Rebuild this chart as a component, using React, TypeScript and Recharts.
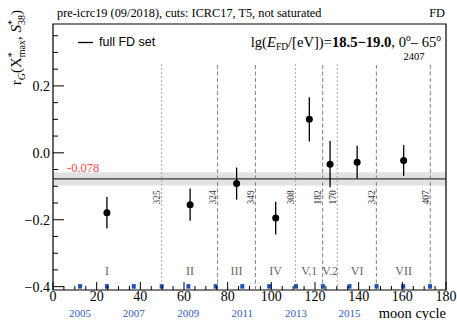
import { ComposedChart, Scatter, XAxis, YAxis, ReferenceLine, ReferenceArea, ErrorBar, Label } from "recharts"

// periods of the FD data set, one point each
const periods = ["I", "II", "III", "IV", "V.1", "V.2", "VI", "VII"]
const periodCycle = [24.7, 62.8, 84.1, 102.0, 117.4, 126.9, 139.3, 160.6]
const periodR = [-0.179, -0.155, -0.092, -0.195, 0.1, -0.034, -0.028, -0.023]
const periodErr = [0.047, 0.048, 0.048, 0.049, 0.066, 0.069, 0.049, 0.046]

// boundaries between periods and event counts written next to them
const boundaryCycle = [49.8, 75.4, 92.7, 111.1, 123.5, 130.2, 148.1, 172.8]
const boundaryCount = [325, 324, 349, 308, 182, 170, 342, 407]
const boundaryDotted = [true, false, false, true, false, true, false, false]

// start of each calendar year in moon cycles
const yearCycle = [12.4, 24.7, 37.0, 49.8, 62.0, 74.5, 86.7, 99.0, 111.3, 123.6, 135.8, 148.2, 160.4, 172.7]
const yearName = [2005, 2006, 2007, 2008, 2009, 2010, 2011, 2012, 2013, 2014, 2015, 2016, 2017, 2018]
const yearLabelled = [true, false, true, false, true, false, true, false, true, false, true, false, false, false]

const fullSetR = -0.078
const fullSetErr = 0.02
const totalEvents = 2407

const xTicks = [0, 5, 10, 15, 20, 25, 30, 35, 40, 45, 50, 55, 60, 65, 70, 75, 80, 85, 90, 95, 100, 105, 110, 115, 120, 125, 130, 135, 140, 145, 150, 155, 160, 165, 170, 175, 180]
const yTicks = [-0.4, -0.35, -0.3, -0.25, -0.2, -0.15, -0.1, -0.05, 0, 0.05, 0.1, 0.15, 0.2, 0.25, 0.3, 0.35]
const yMajorLabels: Record<string, string> = { "-0.4": "\u22120.4", "-0.2": "\u22120.2", "0": "0.0", "0.2": "0.2" }

const X_MIN = 0
const X_MAX = 180
const Y_MIN = -0.41
const Y_MAX = 0.385
const COUNT_Y = -0.1335
const PERIOD_Y = -0.354
const BOUNDARY_TOP = 0.27

const serif = "'Liberation Serif', 'DejaVu Serif', serif"
const sans = "'Liberation Sans', Arial, sans-serif"

const points = periods.map((p, i) => ({ x: periodCycle[i], y: periodR[i], err: periodErr[i], name: p }))
const periodLabels = periods.map((p, i) => ({ x: periodCycle[i], y: PERIOD_Y, name: p }))
const countLabels = boundaryCycle.map((b, i) => ({ x: b, y: COUNT_Y, n: boundaryCount[i] }))
const yearMarks = yearCycle.map((c, i) => ({ x: c, y: -0.4, year: yearName[i], show: yearLabelled[i] }))

const XTick = (p: any) => {
  const { x, y, payload } = p
  const major = payload.value % 20 === 0
  return (
    <g>
      <line x1={x} x2={x} y1={y} y2={y - (major ? 8 : 4)} stroke="#000" />
      {major && (
        <text x={x} y={y + 10.5} textAnchor="middle" fontSize={14} fontFamily={serif} fill="#000">
          {payload.value}
        </text>
      )}
    </g>
  )
}

const YTick = (p: any) => {
  const { x, y, payload } = p
  const key = String(Math.round(payload.value * 100) / 100)
  const lbl = yMajorLabels[key]
  return (
    <g>
      <line x1={x} x2={x + (lbl ? 11 : 5)} y1={y} y2={y} stroke="#000" />
      {lbl && (
        <text x={x - 3} y={y + 5} textAnchor="end" fontSize={14} fontFamily={serif} fill="#000">
          {lbl}
        </text>
      )}
    </g>
  )
}

const YTitle = () => {
  return (
    <text transform="translate(21,10) rotate(-90)" textAnchor="end" fontSize={15} fontFamily={serif} fill="#000">
      r<tspan fontSize={10} dy={4} fontStyle="italic">G</tspan>
      <tspan dy={-4}>(X</tspan>
      <tspan fontSize={10} dy={-6}>*</tspan>
      <tspan fontSize={10} dx={-5} dy={10}>max</tspan>
      <tspan dy={-4}>, </tspan>
      <tspan fontStyle="italic">S</tspan>
      <tspan fontSize={10} dy={-6}>*</tspan>
      <tspan fontSize={10} dx={-5} dy={10}>38</tspan>
      <tspan dy={-4}>)</tspan>
    </text>
  )
}

const MoonCycleLabel = (p: any) => {
  const vb = p.viewBox || { x: 53, y: 290, width: 393 }
  return (
    <text x={vb.x + vb.width} y={vb.y + 27.5} textAnchor="end" fontSize={14.5} fontFamily={serif} fill="#000">
      moon cycle
    </text>
  )
}

const FullSetLabel = (p: any) => {
  const vb = p.viewBox || { x: 53, y: 178 }
  return (
    <text x={vb.x + 14} y={vb.y - 7} fontSize={12.5} fontFamily={serif} fill="#ff4d4d">
      {fullSetR.toFixed(3)}
    </text>
  )
}

const Dot = (p: any) => <circle cx={p.cx} cy={p.cy} r={3.5} fill="#000" />

const CountText = (p: any) => (
  <text
    transform={`translate(${p.cx - 1.5},${p.cy}) rotate(-90)`}
    textAnchor="middle"
    fontSize={9.5}
    fontFamily={serif}
    fill="#333"
  >
    {p.payload.n}
  </text>
)

const PeriodText = (p: any) => (
  <text x={p.cx} y={p.cy + 4} textAnchor="middle" fontSize={12} fontFamily={serif} fill="#666">
    {p.payload.name}
  </text>
)

// year marker on the axis, with the year written below the axis for every other year
const YearMark = (p: any) => (
  <g>
    <rect x={p.cx - 2} y={p.cy - 2.5} width={4} height={4.5} fill="#1f4fb4" />
    {p.payload.show && (
      <text x={p.cx} y={p.cy + 30.5} textAnchor="middle" fontSize={11} fontFamily={serif} fill="#2f5cc0">
        {p.payload.year}
      </text>
    )}
  </g>
)

export default function App() {
  return (
    <div style={{ position: "absolute", left: 0, top: 0, width: 457, height: 320, background: "#fff", fontFamily: serif }}>
      <ComposedChart width={457} height={320} margin={{ top: 24, right: 11, bottom: 13, left: 0 }} style={{ overflow: "visible" }}>
        <XAxis
          dataKey="x"
          type="number"
          domain={[X_MIN, X_MAX]}
          ticks={xTicks}
          interval={0}
          height={17}
          axisLine={false}
          tickLine={false}
          tickSize={0}
          tickMargin={0}
          tick={<XTick />}
        >
          <Label content={<MoonCycleLabel />} />
        </XAxis>
        <YAxis
          dataKey="y"
          type="number"
          domain={[Y_MIN, Y_MAX]}
          ticks={yTicks}
          interval={0}
          width={53}
          axisLine={false}
          tickLine={false}
          tickSize={0}
          tickMargin={0}
          tick={<YTick />}
        >
          <Label content={<YTitle />} />
        </YAxis>

        <ReferenceArea y1={fullSetR - fullSetErr} y2={fullSetR + fullSetErr} fill="#e2e2e2" fillOpacity={1} stroke="none" />
        <ReferenceLine y={fullSetR} stroke="#333" strokeWidth={1.3} label={<FullSetLabel />} />

        {boundaryCycle.map((b, i) => (
          <ReferenceLine
            key={"b" + i}
            segment={[{ x: b, y: Y_MIN }, { x: b, y: BOUNDARY_TOP }]}
            stroke={boundaryDotted[i] ? "#a8a8a8" : "#808080"}
            strokeDasharray={boundaryDotted[i] ? "2 2" : "4 2.5"}
          />
        ))}

        <ReferenceArea
          x1={X_MIN}
          x2={X_MAX}
          y1={Y_MIN}
          y2={Y_MAX}
          fill="none"
          stroke="#000"
          strokeWidth={1.2}
          ifOverflow="visible"
        />

        <Scatter data={countLabels} shape={<CountText />} isAnimationActive={false} />
        <Scatter data={periodLabels} shape={<PeriodText />} isAnimationActive={false} />
        <Scatter data={yearMarks} shape={<YearMark />} isAnimationActive={false} />
        <Scatter data={points} fill="#000" shape={<Dot />} isAnimationActive={false}>
          <ErrorBar dataKey="err" direction="y" width={0} stroke="#000" strokeWidth={1.3} isAnimationActive={false} />
        </Scatter>
      </ComposedChart>

      <svg width={457} height={320} style={{ position: "absolute", left: 0, top: 0, pointerEvents: "none" }}>
        <text x={57} y={16.5} fontSize={12.3} fontFamily={serif} fill="#000">
          pre-icrc19 (09/2018), cuts: ICRC17, T5, not saturated
        </text>
        <text x={445} y={16.5} textAnchor="end" fontSize={12.3} fontFamily={serif} fill="#000">
          FD
        </text>
        <line x1={78} x2={93} y1={42.5} y2={42.5} stroke="#000" strokeWidth={1.3} />
        <text x={99} y={45.5} fontSize={12.5} fontFamily={sans} fill="#000">
          full FD set
        </text>
        <text x={441} y={47} textAnchor="end" fontSize={14.6} fontFamily={serif} fill="#000">
          lg(<tspan fontStyle="italic">E</tspan>
          <tspan fontSize={9.5} dy={3}>FD</tspan>
          <tspan dy={-3}>/[eV])=</tspan>
          <tspan fontWeight="bold">18.5{"\u2212"}19.0</tspan>, 0
          <tspan fontSize={9.5} dy={-6}>o</tspan>
          <tspan dy={6}>{"\u2013"} 65</tspan>
          <tspan fontSize={9.5} dy={-6}>o</tspan>
        </text>
        <text x={414} y={60} textAnchor="middle" fontSize={10.5} fontFamily={serif} fill="#000">
          {totalEvents}
        </text>
      </svg>
    </div>
  )
}
